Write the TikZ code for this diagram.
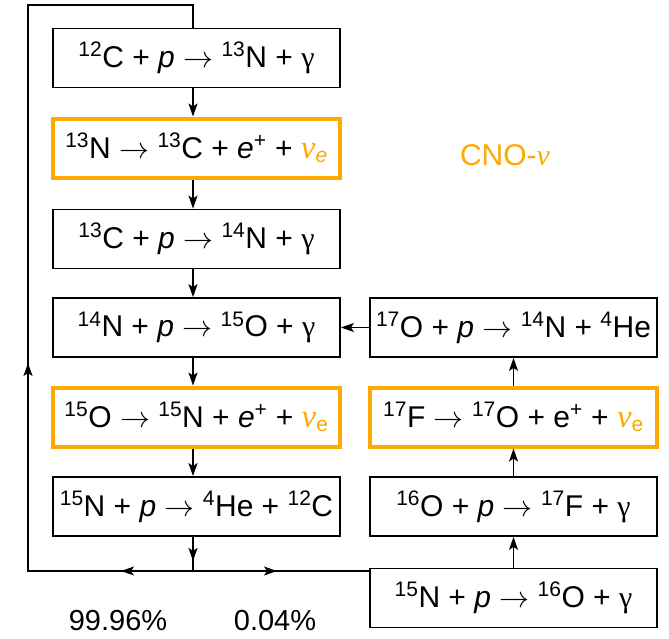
\RequirePackage{fix-cm}
\documentclass[tikz,border=0pt]{standalone}
\usepackage{fontspec}
\setmainfont{Liberation Sans}
\newfontfamily\nufont{Liberation Serif}
\usetikzlibrary{arrows.meta,decorations.markings}
\definecolor{cnoorange}{RGB}{255,168,0}
\newcommand\nuE[1]{{\color{cnoorange}{\nufont\itshape\fontsize{33}{36}\selectfont ν}\textsubscript{#1}}}
\newcommand\iso[2]{\textsuperscript{#1}#2}
\newcommand\tto{ $\rightarrow$ }
\newcommand\gam{{\nufont γ}}
\begin{document}
\begin{tikzpicture}[x=1pt,y=-1pt,
  font=\fontsize{30}{36}\selectfont,
  box/.style={draw=black,line width=1.8pt,minimum width=287pt,minimum height=59pt,inner sep=0pt},
  obox/.style={box,draw=cnoorange,line width=4pt},
  conn/.style={line width=1.6pt},
  endarrow/.style={conn,-{Stealth[length=13pt,width=9pt,inset=3pt]}},
  markarrow/.style={postaction={decorate,decoration={markings,
     mark=at position #1 with {\arrow{Stealth[length=13pt,width=9pt,inset=3pt]}}}}},
]
\useasboundingbox (0,0) rectangle (669,638);

% left column
\node[box]  (b1) at (196.5,58)  {\iso{12}{C} + \textit{p}\tto\iso{13}{N} + \gam};
\node[obox] (b2) at (196.5,148) {\iso{13}{N}\tto\iso{13}{C} + \textit{e}\textsuperscript{+} + \nuE{\itshape e}};
\node[box]  (b3) at (196.5,239) {\iso{13}{C} + \textit{p}\tto\iso{14}{N} + \gam};
\node[box]  (b4) at (196.5,327.5) {\iso{14}{N} + \textit{p}\tto\iso{15}{O} + \gam};
\node[obox] (b5) at (196.5,417) {\iso{15}{O}\tto\iso{15}{N} + \textit{e}\textsuperscript{+} + \nuE{e}};
\node[box]  (b6) at (196.5,506.5) {\iso{15}{N} + \textit{p}\tto\iso{4}{He} + \iso{12}{C}};

% right column
\node[box]  (r1) at (513.5,327.5) {\iso{17}{O} + \textit{p}\tto\iso{14}{N} + \iso{4}{He}};
\node[obox] (r2) at (513.5,417) {\iso{17}{F}\tto\iso{17}{O} + e\textsuperscript{+} + \nuE{e}};
\node[box]  (r3) at (513.5,506.5) {\iso{16}{O} + \textit{p}\tto\iso{17}{F} + \gam};
\node[box]  (r4) at (513.5,598) {\iso{15}{N} + \textit{p}\tto\iso{16}{O} + \gam};

\node[text=cnoorange,font=\fontsize{30}{34}\selectfont] (cno) at (505,155) {CNO-{\nufont\itshape ν}};

\coordinate (J) at (193,571);
\coordinate (L1) at (28,571);
\coordinate (L2) at (28,5);
\coordinate (L3) at (193,5);

\node[font=\fontsize{29}{32}\selectfont] (p1) at (118,621) {99.96\%};
\node[font=\fontsize{29}{32}\selectfont] (p2) at (275,621) {0.04\%};

% left chain
\draw[endarrow] (b1.south -| J) -- (b2.north -| J);
\draw[endarrow] (b2.south -| J) -- (b3.north -| J);
\draw[endarrow] (b3.south -| J) -- (b4.north -| J);
\draw[endarrow] (b4.south -| J) -- (b5.north -| J);
\draw[endarrow] (b5.south -| J) -- (b6.north -| J);
\draw[conn,markarrow=24pt] (b6.south -| J) -- (J);

% loop back
\draw[conn,line join=miter,markarrow=72pt,
  postaction={decorate,decoration={markings,mark=at position 373pt with {\arrow{Stealth[length=13pt,width=9pt,inset=3pt]}}}}]
  (J) -- (L1) -- (L2) -- (L3) -- (b1.north -| J);

% branch
\draw[conn,markarrow=84pt] (J) -- (r4.west |- J);

% right chain
\draw[endarrow] (r4.north) -- (r3.south);
\draw[endarrow] (r3.north) -- (r2.south);
\draw[endarrow] (r2.north) -- (r1.south);
\draw[endarrow] (r1.west) -- (b4.east |- r1.west);
\end{tikzpicture}
\end{document}
